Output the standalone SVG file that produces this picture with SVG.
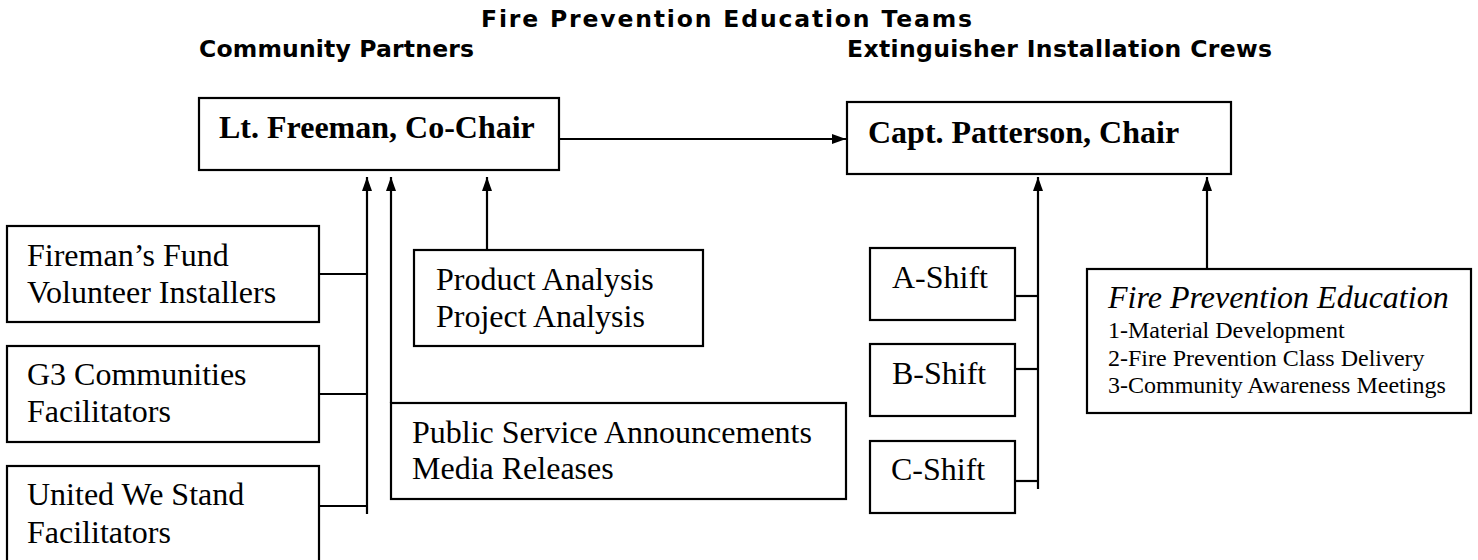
<svg xmlns="http://www.w3.org/2000/svg" width="1478" height="560" viewBox="0 0 1478 560">
<defs>
<style>
.box{fill:#fff;stroke:#000;stroke-width:2.2}
.ln{fill:none;stroke:#000;stroke-width:2.2}
.hd{font-family:"DejaVu Sans","Liberation Sans",sans-serif;font-weight:bold;font-size:23.5px;fill:#000}
.sb{font-family:"Liberation Serif","Times New Roman",serif;font-weight:bold;font-size:32px;fill:#000}
.sr{font-family:"Liberation Serif","Times New Roman",serif;font-size:32px;fill:#000}
.si{font-family:"Liberation Serif","Times New Roman",serif;font-style:italic;font-size:32px;fill:#000}
.ss{font-family:"Liberation Serif","Times New Roman",serif;font-size:24px;fill:#000}
</style>
<marker id="ah" viewBox="0 0 14 10" refX="14" refY="5" markerWidth="14" markerHeight="10" markerUnits="userSpaceOnUse" orient="auto">
<path d="M0,0 L14,5 L0,10 Z" fill="#000"/>
</marker>
</defs>
<rect width="1478" height="560" fill="#fff"/>
<g id="headings">
<text class="hd" x="481" y="27" textLength="491" lengthAdjust="spacing">Fire Prevention Education Teams</text>
<text class="hd" x="199" y="57" textLength="275" lengthAdjust="spacing">Community Partners</text>
<text class="hd" x="847" y="57" textLength="425" lengthAdjust="spacing">Extinguisher Installation Crews</text>
</g>
<g id="connectors">
<line class="ln" x1="559" y1="139" x2="846" y2="139" marker-end="url(#ah)"/>
<line class="ln" x1="367" y1="514" x2="367" y2="177" marker-end="url(#ah)"/>
<line class="ln" x1="319" y1="274" x2="367" y2="274"/>
<line class="ln" x1="319" y1="394" x2="367" y2="394"/>
<line class="ln" x1="319" y1="506" x2="367" y2="506"/>
<line class="ln" x1="391" y1="403" x2="391" y2="177" marker-end="url(#ah)"/>
<line class="ln" x1="487" y1="250" x2="487" y2="177" marker-end="url(#ah)"/>
<line class="ln" x1="1038" y1="489" x2="1038" y2="177" marker-end="url(#ah)"/>
<line class="ln" x1="1015" y1="296" x2="1038" y2="296"/>
<line class="ln" x1="1015" y1="369" x2="1038" y2="369"/>
<line class="ln" x1="1015" y1="481" x2="1038" y2="481"/>
<line class="ln" x1="1207" y1="269" x2="1207" y2="177" marker-end="url(#ah)"/>
</g>
<g id="freeman">
<rect class="box" x="199" y="98" width="360" height="72"/>
<text class="sb" x="219" y="138">Lt. Freeman, Co-Chair</text>
</g>
<g id="patterson">
<rect class="box" x="847" y="102" width="384" height="72"/>
<text class="sb" x="868" y="143">Capt. Patterson, Chair</text>
</g>
<g id="firemans-fund">
<rect class="box" x="7" y="226" width="312" height="96"/>
<text class="sr" x="27" y="266">Fireman’s Fund</text>
<text class="sr" x="27" y="303">Volunteer Installers</text>
</g>
<g id="g3">
<rect class="box" x="7" y="346" width="312" height="96"/>
<text class="sr" x="27" y="385">G3 Communities</text>
<text class="sr" x="27" y="422">Facilitators</text>
</g>
<g id="united">
<rect class="box" x="7" y="466" width="312" height="110"/>
<text class="sr" x="27" y="505">United We Stand</text>
<text class="sr" x="27" y="543">Facilitators</text>
</g>
<g id="analysis">
<rect class="box" x="414" y="250" width="289" height="96"/>
<text class="sr" x="436" y="290">Product Analysis</text>
<text class="sr" x="436" y="327">Project Analysis</text>
</g>
<g id="psa">
<rect class="box" x="391" y="403" width="455" height="96"/>
<text class="sr" x="412" y="443">Public Service Announcements</text>
<text class="sr" x="412" y="479">Media Releases</text>
</g>
<g id="a-shift">
<rect class="box" x="870" y="248" width="145" height="72"/>
<text class="sr" x="892" y="288">A-Shift</text>
</g>
<g id="b-shift">
<rect class="box" x="870" y="344" width="145" height="72"/>
<text class="sr" x="892" y="384">B-Shift</text>
</g>
<g id="c-shift">
<rect class="box" x="870" y="441" width="145" height="72"/>
<text class="sr" x="891" y="480">C-Shift</text>
</g>
<g id="fire-prevention-education">
<rect class="box" x="1087" y="269" width="384" height="144"/>
<text class="si" x="1108" y="308">Fire Prevention Education</text>
<text class="ss" x="1108" y="338">1-Material Development</text>
<text class="ss" x="1108" y="366">2-Fire Prevention Class Delivery</text>
<text class="ss" x="1108" y="393">3-Community Awareness Meetings</text>
</g>
</svg>
